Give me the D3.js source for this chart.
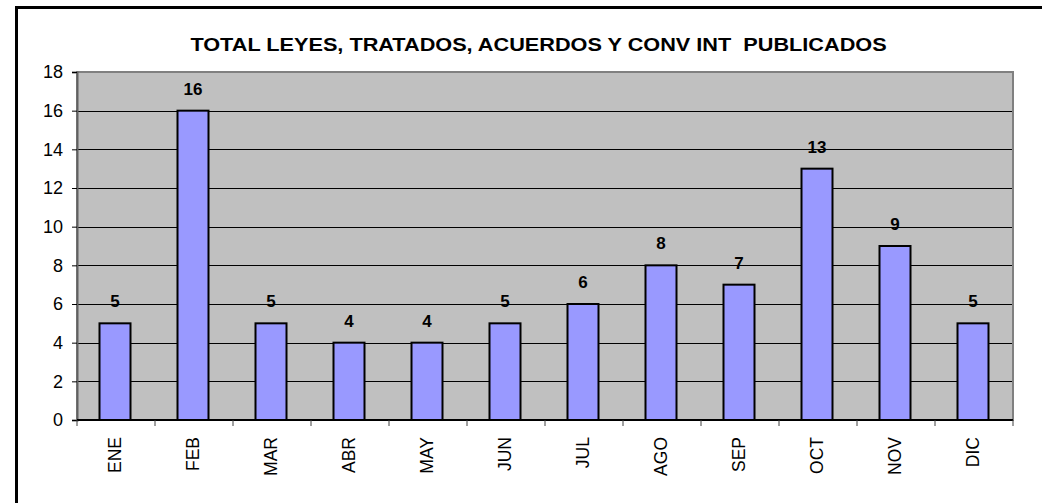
<!DOCTYPE html>
<html><head><meta charset="utf-8">
<script src="https://cdn.jsdelivr.net/npm/d3@7"></script>
<style>body{margin:0;background:#fff}svg{display:block;font-family:Arial,"Liberation Sans",sans-serif}</style>
</head><body>
<svg id="c" width="1042" height="503"></svg>
<script>
const title = "TOTAL LEYES, TRATADOS, ACUERDOS Y CONV INT  PUBLICADOS";
const months = ["ENE","FEB","MAR","ABR","MAY","JUN","JUL","AGO","SEP","OCT","NOV","DIC"];
const values = [5,16,5,4,4,5,6,8,7,13,9,5];
const yTicks = [0,2,4,6,8,10,12,14,16,18];

const svg = d3.select("#c");
const L = 77, R = 1013, T = 72, B = 420;
const x = d3.scaleBand().domain(months).range([L, R]).paddingInner(0).paddingOuter(0);
const y = d3.scaleLinear().domain([0, 18]).range([B, T]);

// outer frame
svg.append("rect").attr("x",16.5).attr("y",7.5).attr("width",1100).attr("height",600)
  .attr("fill","#fff").attr("stroke","#000").attr("stroke-width",3);

// plot background
svg.append("rect").attr("x",L).attr("y",T).attr("width",R-L).attr("height",B-T).attr("fill","#C0C0C0");

// gridlines
svg.append("g").selectAll("line").data(yTicks.filter(d=>d>0 && d<18)).join("line")
  .attr("x1",L).attr("x2",R).attr("y1",d=>Math.round(y(d))+0.5).attr("y2",d=>Math.round(y(d))+0.5)
  .attr("stroke","#000").attr("stroke-width",1);

// plot border (gray)
svg.append("rect").attr("x",L).attr("y",T).attr("width",R-L).attr("height",B-T)
  .attr("fill","none").attr("stroke","#808080").attr("stroke-width",2);

// bars
const bw = 31;
svg.append("g").selectAll("rect").data(values).join("rect")
  .attr("x",(d,i)=>x(months[i])+x.bandwidth()/2-bw/2-1)
  .attr("y",d=>y(d)).attr("width",bw).attr("height",d=>B-y(d))
  .attr("fill","#9999FF").attr("stroke","#000").attr("stroke-width",2);

// data labels
svg.append("g").selectAll("text").data(values).join("text")
  .attr("x",(d,i)=>x(months[i])+x.bandwidth()/2-1)
  .attr("y",d=>y(d)-16)
  .attr("text-anchor","middle").attr("font-weight","bold").attr("font-size",17)
  .text(d=>d);

// y axis
const yAxis = d3.axisLeft(y).tickValues(yTicks).tickSize(5).tickPadding(9);
const gy = svg.append("g").attr("transform",`translate(${L},0)`).call(yAxis);
gy.select(".domain").attr("stroke","#606060").attr("stroke-width",2);
gy.selectAll(".tick line").attr("stroke","#000");
gy.selectAll(".tick text").attr("font-size",18).attr("font-family","Arial, 'Liberation Sans', sans-serif").attr("fill","#000");

// x axis
const gx = svg.append("g").attr("transform",`translate(0,${B})`);
gx.append("line").attr("x1",L).attr("x2",R).attr("y1",0).attr("y2",0).attr("stroke","#000").attr("stroke-width",2);
gx.selectAll("line.t").data(d3.range(13)).join("line").attr("class","t")
  .attr("x1",i=>L+i*x.step()).attr("x2",i=>L+i*x.step()).attr("y1",0).attr("y2",6)
  .attr("stroke","#404040").attr("stroke-width",1);
gx.selectAll("text").data(months).join("text")
  .attr("transform",d=>`translate(${x(d)+x.bandwidth()/2+5},17) rotate(-90)`)
  .attr("text-anchor","end").attr("font-size",17.5).text(d=>d);

// title
const tg = svg.append("g").attr("transform","translate(538.5,51)");
const tt = tg.append("text").attr("x",0).attr("y",0).attr("text-anchor","middle")
  .attr("font-weight","bold").attr("font-size",19).style("white-space","pre").text(title);
const tw = tt.node().getComputedTextLength();
tt.attr("transform",`scale(${697/tw},1)`);
</script>
</body></html>
